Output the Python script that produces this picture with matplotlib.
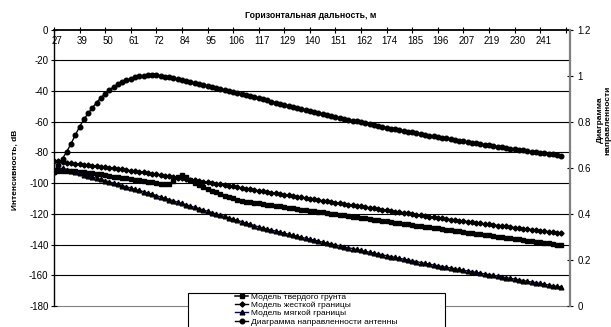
import matplotlib
matplotlib.use('Agg')
import matplotlib.pyplot as plt
import matplotlib.transforms as mtransforms
from matplotlib.patches import Rectangle
import numpy as np

plt.rcParams['font.family'] = ['Liberation Sans', 'DejaVu Sans']

# ---------------- data ----------------
tick_labels = ['27', '39', '50', '61', '72', '84', '95', '106', '117', '129',
               '140', '151', '162', '174', '185', '196', '207', '219', '230', '241']
label_every = 6  # one label every 6 categories

hard_ground = [  # Модель твердого грунта, dB
    -92.5, -92.2, -92.0, -92.0, -92.1, -92.3, -92.6, -92.8, -93.1, -93.5,
    -93.9, -94.3, -94.8, -95.2, -95.7, -96.1, -96.5, -96.9, -97.4, -97.8,
    -98.3, -98.7, -99.2, -99.6, -100.0, -100.3, -100.6, -100.7,
    -98.5, -96.2, -94.8, -96.0, -98.0, -99.8, -101.3, -102.6, -103.8, -105.0,
    -106.1, -107.2, -108.2, -109.1, -110.0, -110.8, -111.5, -112.1, -112.5, -112.9, -113.2,
    -113.6, -114.0, -114.4, -114.8, -115.2, -115.6, -116.0, -116.4, -116.8,
    -117.2, -117.6, -117.9, -118.3, -118.7, -119.1, -119.5, -119.9, -120.3, -120.7,
    -121.0, -121.4, -121.8, -122.2, -122.6, -123.0, -123.4, -123.7, -124.1, -124.5,
    -124.9, -125.3, -125.7, -126.1, -126.4, -126.8, -127.2, -127.6, -128.0, -128.4,
    -128.8, -129.1, -129.5, -129.9, -130.3, -130.7, -131.0, -131.4, -131.8, -132.2,
    -132.6, -132.9, -133.3, -133.7, -134.1, -134.4, -134.8, -135.2, -135.6, -135.9,
    -136.3, -136.7, -137.1, -137.4, -137.8, -138.2, -138.6, -138.9, -139.3, -139.7,
    -140.1, -140.4]

rigid_boundary = [  # Модель жесткой границы, dB
    -85.6, -85.9, -86.3, -86.6, -86.9, -87.3, -87.6, -87.9, -88.2, -88.6, -88.9,
    -89.3, -89.6, -90.0, -90.4, -90.8, -91.1, -91.5, -91.9, -92.2, -92.6,
    -93.0, -93.4, -93.9, -94.3, -94.7, -95.1, -95.5, -96.0, -96.4, -96.8,
    -97.3, -97.7, -98.2, -98.6, -99.1, -99.5, -100.0, -100.4, -100.9, -101.3,
    -101.8, -102.2, -102.7, -103.1, -103.6, -104.0, -104.5, -104.9, -105.4, -105.8,
    -106.2, -106.7, -107.1, -107.6, -108.0, -108.4, -108.9, -109.3, -109.8, -110.2,
    -110.6, -111.0, -111.5, -111.9, -112.3, -112.7, -113.1, -113.6, -114.0, -114.4,
    -114.8, -115.2, -115.6, -116.0, -116.4, -116.9, -117.3, -117.7, -118.1, -118.5,
    -118.9, -119.3, -119.7, -120.1, -120.5, -121.0, -121.4, -121.8, -122.2, -122.6,
    -123.0, -123.3, -123.7, -124.0, -124.4, -124.8, -125.1, -125.5, -125.8, -126.2,
    -126.5, -126.9, -127.2, -127.6, -127.9, -128.2, -128.6, -128.9, -129.3, -129.6,
    -129.9, -130.3, -130.6, -130.9, -131.3, -131.6, -131.9, -132.2, -132.6]

soft_boundary = [  # Модель мягкой границы, dB
    -91.0, -90.3, -90.4, -91.2, -92.0, -92.8, -93.6, -94.4, -95.2, -96.0,
    -96.8, -97.6, -98.4, -99.2, -100.0, -100.8, -101.6, -102.4, -103.2, -104.0,
    -104.8, -105.6, -106.4,
    -107.3, -108.1, -109.0, -109.8, -110.7, -111.5, -112.4, -113.2, -114.1, -114.9,
    -115.8, -116.6, -117.5, -118.3, -119.2, -120.0, -120.9, -121.7, -122.6, -123.4,
    -124.3, -125.1, -126.0, -126.8, -127.7, -128.5,
    -129.2, -129.9, -130.6, -131.2, -131.9, -132.6, -133.3, -133.9, -134.6, -135.3,
    -135.9, -136.5, -137.1, -137.8, -138.4, -139.0, -139.6, -140.2, -140.9, -141.5,
    -142.1, -142.6, -143.2, -143.8, -144.4, -145.0, -145.6, -146.1, -146.7, -147.3,
    -147.8, -148.4, -148.9, -149.5, -150.0, -150.6, -151.1, -151.7, -152.2, -152.7,
    -153.3, -153.8,
    -154.3, -154.8, -155.2, -155.7, -156.2, -156.7, -157.2, -157.6, -158.1, -158.6,
    -159.1, -159.6, -160.0, -160.5, -161.0, -161.5, -162.0, -162.4, -162.9, -163.4,
    -163.9, -164.4, -164.8, -165.3, -165.8, -166.3, -166.8, -167.2, -167.7]

antenna_pattern = [  # Диаграмма направленности антенны (right axis)
    0.58, 0.61, 0.64, 0.67, 0.705, 0.742, 0.778, 0.810, 0.836, 0.860,
    0.883, 0.904, 0.922, 0.938, 0.951, 0.962, 0.972, 0.980, 0.987, 0.993,
    0.997, 1.000, 1.002, 1.002, 1.001, 0.999, 0.996, 0.993, 0.989, 0.985,
    0.981, 0.977, 0.972, 0.968, 0.963, 0.959, 0.955, 0.950, 0.946, 0.942,
    0.937, 0.933, 0.929, 0.924, 0.920, 0.916,
    0.911, 0.906, 0.901, 0.897, 0.892, 0.887, 0.883, 0.878, 0.873, 0.869,
    0.864, 0.860, 0.855, 0.851, 0.847, 0.842, 0.838, 0.834, 0.829, 0.825,
    0.821, 0.817, 0.813, 0.809, 0.805, 0.801, 0.797, 0.793, 0.789, 0.785,
    0.781, 0.778, 0.774, 0.770, 0.767, 0.763, 0.760, 0.756, 0.753, 0.749,
    0.746, 0.743, 0.739, 0.736, 0.733, 0.730, 0.727, 0.724, 0.721, 0.718,
    0.715, 0.712, 0.709, 0.706, 0.703, 0.700, 0.697, 0.694, 0.692, 0.689,
    0.686, 0.683, 0.681, 0.678, 0.675, 0.673, 0.670, 0.668, 0.665, 0.663,
    0.660, 0.658, 0.655, 0.653]

series_names = ['Модель твердого грунта', 'Модель жесткой границы',
                'Модель мягкой границы', 'Диаграмма направленности антенны']

left_ticks = list(range(-180, 1, 20))
right_ticks = [0, 0.2, 0.4, 0.6, 0.8, 1.0, 1.2]
right_tick_labels = ['0', '0.2', '0.4', '0.6', '0.8', '1', '1.2']

# ---------------- figure ----------------
W, H = 611, 327
fig = plt.figure(figsize=(W / 100, H / 100), dpi=100)
L, R, T, B = 54, 570, 29.5, 306
ax = fig.add_axes([L / W, 1 - B / H, (R - L) / W, (B - T) / H])
ax.set_xlim(0, 121)
ax.set_ylim(-180, 0)

# gridlines
for v in left_ticks:
    if v == 0:
        continue
    col = '#808080' if v == -180 else 'black'
    ax.axhline(v, color=col, lw=0.8, zorder=1, clip_on=False)

fs = 7
ax.set_yticks(left_ticks)
ax.set_yticklabels([str(v) for v in left_ticks])
ax.tick_params(axis='y', direction='inout', length=4, width=0.8, labelsize=fs, pad=2)

# x axis sits on top (value 0), labels below it
ax.spines['bottom'].set_position(('data', 0))
ax.spines['bottom'].set_linewidth(1.3)
ax.spines['top'].set_visible(False)
ax.spines['right'].set_visible(False)
ax.spines['left'].set_linewidth(1.0)
tick_pos = [i * label_every for i in range(len(tick_labels))]
ax.set_xticks(tick_pos + [120])
ax.set_xticklabels(tick_labels + [''])
ax.tick_params(axis='x', direction='inout', length=4, width=0.8, labelsize=fs, pad=2.5)
off = mtransforms.ScaledTranslation(3 / 100, 0, fig.dpi_scale_trans)
for lab in ax.get_xticklabels():
    lab.set_transform(lab.get_transform() + off)

h1, = ax.plot(np.arange(len(hard_ground)), hard_ground, color='black', lw=1.1,
              marker='s', ms=3.3, mfc='black', mec='black', zorder=3)
h2, = ax.plot(np.arange(len(rigid_boundary)), rigid_boundary, color='black', lw=1.0,
              marker='D', ms=2.6, mfc='black', mec='black', zorder=3)
h3, = ax.plot(np.arange(len(soft_boundary)), soft_boundary, color='#000080', lw=1.0,
              marker='^', ms=3.4, mfc='black', mec='black', zorder=3)

ax2 = ax.twinx()
ax2.set_ylim(0, 1.2)
h4, = ax2.plot(np.arange(len(antenna_pattern)), antenna_pattern, color='black', lw=1.0,
               marker='o', ms=3.3, mfc='black', mec='black', zorder=3)
ax2.set_yticks(right_ticks)
ax2.set_yticklabels(right_tick_labels)
ax2.tick_params(axis='y', direction='inout', length=5, width=0.8, labelsize=fs, pad=3)
for s in ['top', 'bottom', 'left']:
    ax2.spines[s].set_visible(False)
ax2.spines['right'].set_color('#808080')
ax2.spines['right'].set_linewidth(1.6)

# texts
fig.text(311 / W, 1 - 15.5 / H, 'Горизонтальная дальность, м', ha='center', va='center',
         fontsize=6.3, fontweight='bold')
fig.text(15 / W, 1 - 170 / H, 'Интенсивность, dB', ha='center', va='center',
         rotation=90, fontsize=6, fontweight='bold')
fig.text(604 / W, 1 - 120 / H, 'Диаграмма\nнаправленности', ha='center', va='center',
         rotation=90, fontsize=6, fontweight='bold', linespacing=1.1)

# legend (box partly outside the figure)
fig.patches.append(Rectangle((188 / W, -0.2), (445 - 188) / W, 0.2 + 1 - 292.7 / H,
                             transform=fig.transFigure, facecolor='white',
                             edgecolor='black', lw=0.8, zorder=5))
leg = fig.legend([h1, h2, h3, h4], series_names, loc='upper left',
                 bbox_to_anchor=(235 / W, 1 - 293 / H), frameon=False,
                 fontsize=6, numpoints=1, handlelength=1.6, handletextpad=0.3,
                 labelspacing=0.05, borderpad=0, borderaxespad=0)
leg.set_zorder(6)

fig.savefig('out.png', dpi=100)
